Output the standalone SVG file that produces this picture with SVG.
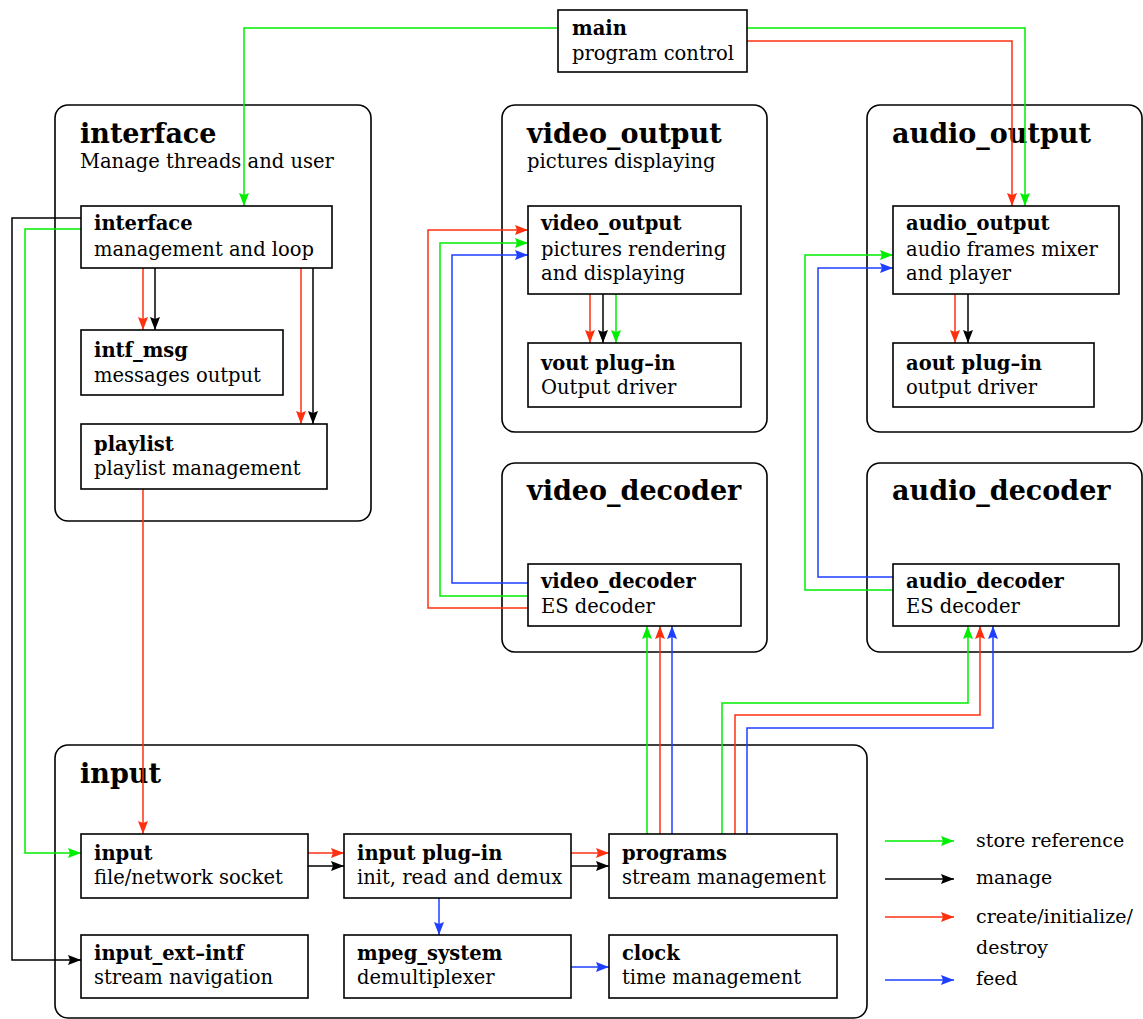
<svg xmlns="http://www.w3.org/2000/svg" width="1143" height="1019" viewBox="0 0 1143 1019">
  <style>
    .group { fill: #fff; stroke: #000; stroke-width: 1.6; }
    .box { fill: #fff; stroke: #000; stroke-width: 1.6; }
    text { font-family: "DejaVu Serif", "Liberation Serif", serif; fill: #000; }
    .gt { font-size: 27px; font-weight: bold; }
    .gs { font-size: 19.5px; }
    .bt { font-size: 19.5px; font-weight: bold; }
    .bs { font-size: 19.5px; }
    .lg { font-size: 19px; }
    .c { fill: none; stroke-width: 1.5; }
    .g { stroke: #00ee00; marker-end: url(#ag); }
    .k { stroke: #000; marker-end: url(#ak); }
    .r { stroke: #ff3010; marker-end: url(#ar); }
    .b { stroke: #1f3fff; marker-end: url(#ab); }
  </style>
  <defs>
    <!-- filled arrowhead with a shallow notch at the back -->
    <marker id="ag" viewBox="0 0 13 10" refX="13" refY="5" markerWidth="13" markerHeight="10" markerUnits="userSpaceOnUse" orient="auto">
      <path d="M0,0 L13,5 L0,10 L2,5 z" fill="#00ee00"/>
    </marker>
    <marker id="ak" viewBox="0 0 13 10" refX="13" refY="5" markerWidth="13" markerHeight="10" markerUnits="userSpaceOnUse" orient="auto">
      <path d="M0,0 L13,5 L0,10 L2,5 z" fill="#000"/>
    </marker>
    <marker id="ar" viewBox="0 0 13 10" refX="13" refY="5" markerWidth="13" markerHeight="10" markerUnits="userSpaceOnUse" orient="auto">
      <path d="M0,0 L13,5 L0,10 L2,5 z" fill="#ff3010"/>
    </marker>
    <marker id="ab" viewBox="0 0 13 10" refX="13" refY="5" markerWidth="13" markerHeight="10" markerUnits="userSpaceOnUse" orient="auto">
      <path d="M0,0 L13,5 L0,10 L2,5 z" fill="#1f3fff"/>
    </marker>
  </defs>

  <rect width="1143" height="1019" fill="#fff"/>

  <!-- module containers -->
  <g id="grp-interface">
    <rect class="group" x="55" y="105" width="316" height="416" rx="13"/>
    <text class="gt" x="80" y="143">interface</text>
    <text class="gs" x="80" y="168">Manage threads and user</text>
  </g>
  <g id="grp-video-output">
    <rect class="group" x="502" y="105" width="265" height="327" rx="13"/>
    <text class="gt" x="527" y="143">video_output</text>
    <text class="gs" x="527" y="168">pictures displaying</text>
  </g>
  <g id="grp-audio-output">
    <rect class="group" x="867" y="105" width="275" height="327" rx="13"/>
    <text class="gt" x="892" y="143">audio_output</text>
  </g>
  <g id="grp-video-decoder">
    <rect class="group" x="502" y="463" width="265" height="189" rx="13"/>
    <text class="gt" x="527" y="500">video_decoder</text>
  </g>
  <g id="grp-audio-decoder">
    <rect class="group" x="867" y="463" width="275" height="189" rx="13"/>
    <text class="gt" x="892" y="500">audio_decoder</text>
  </g>
  <g id="grp-input">
    <rect class="group" x="55" y="745" width="812" height="273" rx="13"/>
    <text class="gt" x="80" y="783">input</text>
  </g>

  <!-- connectors -->
  <g id="connectors">
    <path class="c g" d="M558,28 H244 V206"/>
    <path class="c g" d="M747,28 H1025 V206"/>
    <path class="c r" d="M747,41 H1012 V206"/>
    <path class="c r" d="M143,268 V330"/>
    <path class="c k" d="M155,268 V330"/>
    <path class="c r" d="M301,268 V424"/>
    <path class="c k" d="M313,268 V424"/>
    <path class="c k" d="M81,218 H12 V960 H81"/>
    <path class="c g" d="M81,229 H25 V853 H81"/>
    <path class="c r" d="M143,489 V834"/>
    <path class="c r" d="M590,294 V343"/>
    <path class="c k" d="M603,294 V343"/>
    <path class="c g" d="M616,294 V343"/>
    <path class="c b" d="M528,583 H452 V255 H528"/>
    <path class="c g" d="M528,596 H440 V243 H528"/>
    <path class="c r" d="M528,608 H428 V230 H528"/>
    <path class="c r" d="M955,294 V343"/>
    <path class="c k" d="M968,294 V343"/>
    <path class="c b" d="M893,577 H818 V268 H893"/>
    <path class="c g" d="M893,590 H805 V255 H893"/>
    <path class="c g" d="M647,834 V626"/>
    <path class="c r" d="M660,834 V626"/>
    <path class="c b" d="M672,834 V626"/>
    <path class="c g" d="M722,834 V703 H968 V626"/>
    <path class="c r" d="M735,834 V715 H980 V626"/>
    <path class="c b" d="M747,834 V728 H993 V626"/>
    <path class="c r" d="M308,853 H344"/>
    <path class="c k" d="M308,866 H344"/>
    <path class="c r" d="M571,853 H609"/>
    <path class="c k" d="M571,866 H609"/>
    <path class="c b" d="M439,898 V935"/>
    <path class="c b" d="M571,967 H609"/>
  </g>

  <!-- nodes -->
  <g id="main">
    <rect class="box" x="558" y="10" width="189" height="62"/>
    <text class="bt" x="572" y="35">main</text>
    <text class="bs" x="572" y="60">program control</text>
  </g>
  <g id="interface">
    <rect class="box" x="81" y="206" width="251" height="62"/>
    <text class="bt" x="94" y="230">interface</text>
    <text class="bs" x="94" y="256">management and loop</text>
  </g>
  <g id="intf_msg">
    <rect class="box" x="81" y="330" width="202" height="65"/>
    <text class="bt" x="94" y="357">intf_msg</text>
    <text class="bs" x="94" y="382">messages output</text>
  </g>
  <g id="playlist">
    <rect class="box" x="81" y="424" width="246" height="65"/>
    <text class="bt" x="94" y="451">playlist</text>
    <text class="bs" x="94" y="475">playlist management</text>
  </g>
  <g id="video_output">
    <rect class="box" x="528" y="206" width="213" height="88"/>
    <text class="bt" x="541" y="230">video_output</text>
    <text class="bs" x="541" y="256">pictures rendering</text>
    <text class="bs" x="541" y="280">and displaying</text>
  </g>
  <g id="vout_plugin">
    <rect class="box" x="528" y="343" width="213" height="64"/>
    <text class="bt" x="541" y="370">vout plug–in</text>
    <text class="bs" x="541" y="394">Output driver</text>
  </g>
  <g id="video_decoder">
    <rect class="box" x="528" y="564" width="213" height="62"/>
    <text class="bt" x="541" y="588">video_decoder</text>
    <text class="bs" x="541" y="613">ES decoder</text>
  </g>
  <g id="audio_output">
    <rect class="box" x="893" y="206" width="226" height="88"/>
    <text class="bt" x="906" y="230">audio_output</text>
    <text class="bs" x="906" y="256">audio frames mixer</text>
    <text class="bs" x="906" y="280">and player</text>
  </g>
  <g id="aout_plugin">
    <rect class="box" x="893" y="343" width="201" height="64"/>
    <text class="bt" x="906" y="370">aout plug–in</text>
    <text class="bs" x="906" y="394">output driver</text>
  </g>
  <g id="audio_decoder">
    <rect class="box" x="893" y="564" width="226" height="62"/>
    <text class="bt" x="906" y="588">audio_decoder</text>
    <text class="bs" x="906" y="613">ES decoder</text>
  </g>
  <g id="input">
    <rect class="box" x="81" y="834" width="227" height="64"/>
    <text class="bt" x="94" y="860">input</text>
    <text class="bs" x="94" y="884">file/network socket</text>
  </g>
  <g id="input_ext_intf">
    <rect class="box" x="81" y="935" width="227" height="63"/>
    <text class="bt" x="94" y="960">input_ext–intf</text>
    <text class="bs" x="94" y="984">stream navigation</text>
  </g>
  <g id="input_plugin">
    <rect class="box" x="344" y="834" width="227" height="64"/>
    <text class="bt" x="357" y="860">input plug–in</text>
    <text class="bs" x="357" y="884">init, read and demux</text>
  </g>
  <g id="mpeg_system">
    <rect class="box" x="344" y="935" width="227" height="63"/>
    <text class="bt" x="357" y="960">mpeg_system</text>
    <text class="bs" x="357" y="984">demultiplexer</text>
  </g>
  <g id="programs">
    <rect class="box" x="609" y="834" width="228" height="64"/>
    <text class="bt" x="622" y="860">programs</text>
    <text class="bs" x="622" y="884">stream management</text>
  </g>
  <g id="clock">
    <rect class="box" x="609" y="935" width="228" height="63"/>
    <text class="bt" x="622" y="960">clock</text>
    <text class="bs" x="622" y="984">time management</text>
  </g>

  <!-- legend -->
  <g id="legend">
    <path class="c g" d="M885,841 H954"/>
    <path class="c k" d="M885,879 H954"/>
    <path class="c r" d="M885,917 H954"/>
    <path class="c b" d="M885,980 H954"/>
    <text class="lg" x="976" y="847">store reference</text>
    <text class="lg" x="976" y="884">manage</text>
    <text class="lg" x="976" y="923">create/initialize/</text>
    <text class="lg" x="976" y="954">destroy</text>
    <text class="lg" x="976" y="985">feed</text>
  </g>
</svg>
